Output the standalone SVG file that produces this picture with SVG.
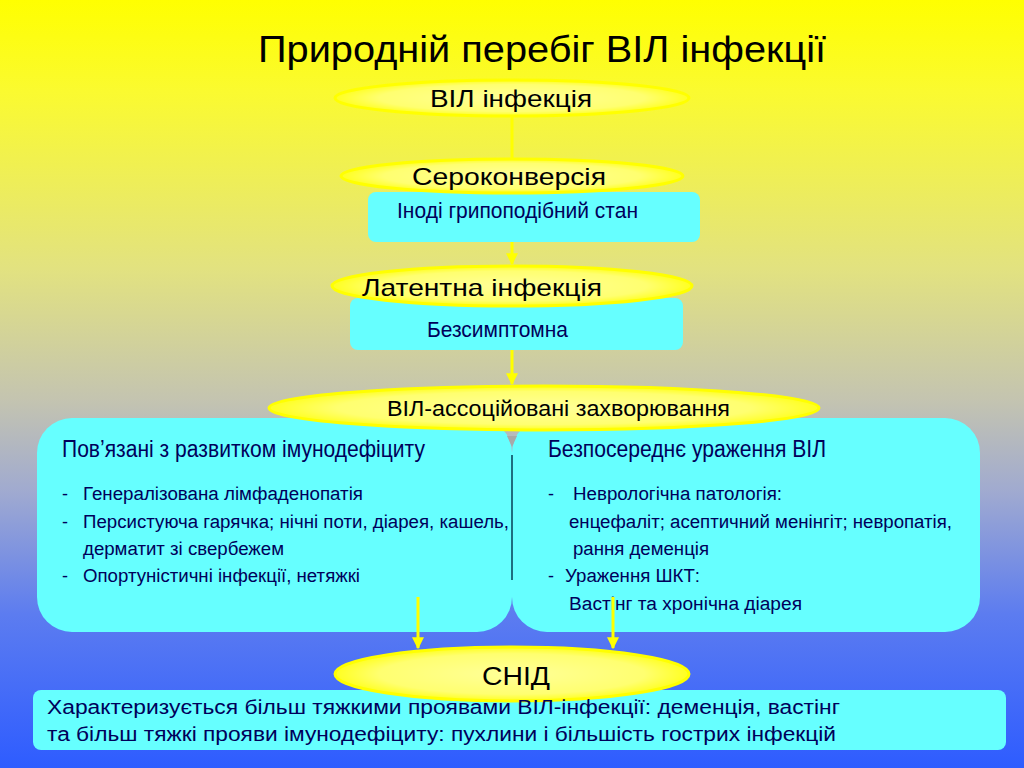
<svg xmlns="http://www.w3.org/2000/svg" width="1024" height="768" viewBox="0 0 1024 768">
<defs>
<linearGradient id="bg" x1="0" y1="0" x2="0" y2="1">
<stop offset="0" stop-color="#FFFF00"/>
<stop offset="0.12" stop-color="#FAFA30"/>
<stop offset="0.35" stop-color="#E2E280"/>
<stop offset="0.52" stop-color="#C4C4B0"/>
<stop offset="0.64" stop-color="#A0AAD0"/>
<stop offset="0.8" stop-color="#5C7CF0"/>
<stop offset="1" stop-color="#2E5CFF"/>
</linearGradient>
<radialGradient id="ell" cx="0.5" cy="0.5" r="0.5">
<stop offset="0" stop-color="#FFFF99"/>
<stop offset="0.75" stop-color="#FFFF70"/>
<stop offset="1" stop-color="#FFFF20"/>
</radialGradient>
<marker id="ah" viewBox="0 0 10 10" refX="9" refY="5" markerWidth="4" markerHeight="4" orient="auto">
<path d="M0,0 L10,5 L0,10 z" fill="#FFFF00"/>
</marker>
<style>
.ell{fill:url(#ell);stroke:#FFFF00;stroke-width:3}
.box{fill:#66FFFF}
.et{font-family:"Liberation Sans",Arial,sans-serif;fill:#000000}
.bt{font-family:"Liberation Sans",Arial,sans-serif;fill:#00005A}
.arr{stroke:#FFFF00;stroke-width:3;fill:none}
</style>
</defs>
<rect x="0" y="0" width="1024" height="768" fill="url(#bg)"/>
<text x="258" y="62" class="et" font-size="36" textLength="568" lengthAdjust="spacingAndGlyphs">Природній перебіг ВІЛ інфекції</text>

<g id="connectors">
<line class="arr" x1="512" y1="114" x2="512" y2="160"/>
<line class="arr" x1="512" y1="230" x2="512" y2="264" marker-end="url(#ah)"/>
<line class="arr" x1="512" y1="350" x2="512" y2="384" marker-end="url(#ah)"/>
</g>

<g id="n1">
<ellipse class="ell" cx="512" cy="98" rx="177" ry="18"/>
<text x="430" y="107" class="et" font-size="24" textLength="162" lengthAdjust="spacingAndGlyphs">ВІЛ інфекція</text>
</g>

<g id="n2">
<rect class="box" x="368" y="192" width="332" height="50" rx="8"/>
<ellipse class="ell" cx="512" cy="176" rx="171" ry="17"/>
<text x="412" y="185" class="et" font-size="24" textLength="194" lengthAdjust="spacingAndGlyphs">Сероконверсія</text>
<text x="397" y="218" class="bt" font-size="22" textLength="241" lengthAdjust="spacingAndGlyphs">Іноді грипоподібний стан</text>
</g>

<g id="n3">
<rect class="box" x="350" y="298" width="333" height="52" rx="8"/>
<ellipse class="ell" cx="512" cy="286" rx="180" ry="20"/>
<text x="362" y="296" class="et" font-size="24" textLength="240" lengthAdjust="spacingAndGlyphs">Латентна інфекція</text>
<text x="427" y="337" class="bt" font-size="22" textLength="141" lengthAdjust="spacingAndGlyphs">Безсимптомна</text>
</g>

<g id="n4">
<rect class="box" x="37" y="418" width="475" height="214" rx="35"/>
<rect class="box" x="512" y="418" width="468" height="214" rx="35"/>
<line x1="512" y1="455" x2="512" y2="580" stroke="#1E6E80" stroke-width="2"/>
<polygon points="507,436 517,436 512,447" fill="#A8A8A8"/>
<ellipse class="ell" cx="544" cy="408" rx="275" ry="22"/>
<text x="387" y="416" class="et" font-size="22" textLength="343" lengthAdjust="spacingAndGlyphs">ВІЛ-ассоційовані захворювання</text>
<text x="62" y="457" class="bt" font-size="23" textLength="363" lengthAdjust="spacingAndGlyphs">Пов’язані з развитком імунодефіциту</text>
<text x="62" y="500" class="bt" font-size="18">-</text>
<text x="83" y="500" class="bt" font-size="18" textLength="280" lengthAdjust="spacingAndGlyphs">Генералізована лімфаденопатія</text>
<text x="62" y="528" class="bt" font-size="18">-</text>
<text x="83" y="528" class="bt" font-size="18" textLength="426" lengthAdjust="spacingAndGlyphs">Персистуюча гарячка; нічні поти, діарея, кашель,</text>
<text x="83" y="555" class="bt" font-size="18" textLength="201" lengthAdjust="spacingAndGlyphs">дерматит зі свербежем</text>
<text x="62" y="582" class="bt" font-size="18">-</text>
<text x="83" y="582" class="bt" font-size="18" textLength="277" lengthAdjust="spacingAndGlyphs">Опортуністичні інфекції, нетяжкі</text>
<text x="548" y="457" class="bt" font-size="23" textLength="278" lengthAdjust="spacingAndGlyphs">Безпосереднє ураження ВІЛ</text>
<text x="548" y="500" class="bt" font-size="18">-</text>
<text x="573" y="500" class="bt" font-size="18" textLength="209" lengthAdjust="spacingAndGlyphs">Неврологічна патологія:</text>
<text x="569" y="528" class="bt" font-size="18" textLength="383" lengthAdjust="spacingAndGlyphs">енцефаліт; асептичний менінгіт; невропатія,</text>
<text x="573" y="555" class="bt" font-size="18" textLength="136" lengthAdjust="spacingAndGlyphs">рання деменція</text>
<text x="548" y="582" class="bt" font-size="18">-</text>
<text x="565" y="582" class="bt" font-size="18" textLength="135" lengthAdjust="spacingAndGlyphs">Ураження ШКТ:</text>
<text x="569" y="610" class="bt" font-size="18" textLength="233" lengthAdjust="spacingAndGlyphs">Вастінг та хронічна діарея</text>
</g>

<g id="connectors2">
<line class="arr" x1="418" y1="597" x2="418" y2="648" marker-end="url(#ah)"/>
<line class="arr" x1="613" y1="597" x2="613" y2="648" marker-end="url(#ah)"/>
</g>

<g id="n5">
<rect class="box" x="33" y="690" width="973" height="60" rx="8"/>
<ellipse class="ell" cx="512" cy="674" rx="177" ry="27"/>
<text x="482" y="685" class="et" font-size="26" textLength="68" lengthAdjust="spacingAndGlyphs">СНІД</text>
<text x="47" y="714" class="bt" font-size="20" textLength="793" lengthAdjust="spacingAndGlyphs">Характеризується більш тяжкими проявами ВІЛ-інфекції: деменція, вастінг</text>
<text x="47" y="741" class="bt" font-size="20" textLength="789" lengthAdjust="spacingAndGlyphs">та більш тяжкі прояви імунодефіциту: пухлини і більшість гострих інфекцій</text>
</g>
</svg>
